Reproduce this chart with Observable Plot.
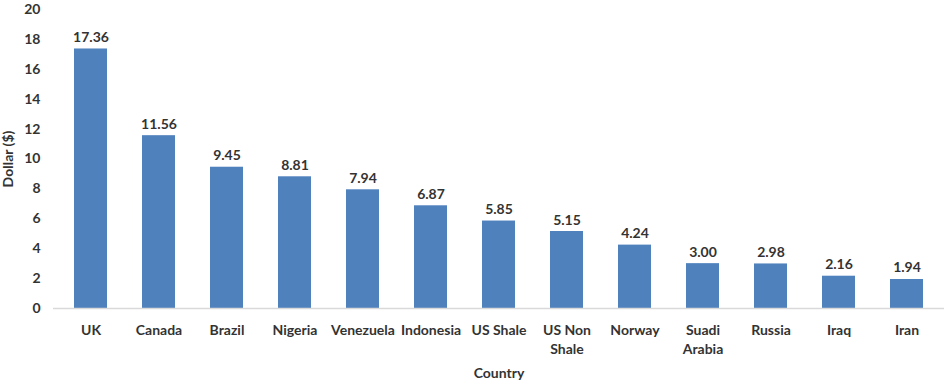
<!DOCTYPE html>
<html>
<head>
<meta charset="utf-8">
<script src="https://cdn.jsdelivr.net/npm/d3@7"></script>
<script src="https://cdn.jsdelivr.net/npm/@observablehq/plot@0.6"></script>
<style>
  body { margin: 0; background: #fff; }
  svg { font-family: Lato, "Open Sans", sans-serif; }
</style>
</head>
<body>
<div id="chart"></div>
<script>
const countries = ["UK", "Canada", "Brazil", "Nigeria", "Venezuela", "Indonesia", "US Shale", "US Non\nShale", "Norway", "Suadi\nArabia", "Russia", "Iraq", "Iran"];
const values = [17.36, 11.56, 9.45, 8.81, 7.94, 6.87, 5.85, 5.15, 4.24, 3.00, 2.98, 2.16, 1.94];
const yTicks = [0, 2, 4, 6, 8, 10, 12, 14, 16, 18, 20];

const data = countries.map((c, i) => ({country: c, value: values[i]}));

const chart = Plot.plot({
  width: 944,
  height: 380,
  marginLeft: 53,
  marginRight: 0,
  marginTop: 9,
  marginBottom: 72,
  style: {fontSize: "14px", fontWeight: "bold", color: "#333", background: "#fff"},
  x: {domain: countries, range: [52, 944], paddingInner: 0.52, paddingOuter: 0.26, label: null},
  y: {domain: [0, 20], label: null},
  marks: [
    Plot.barY(data, {x: "country", y: "value", fill: "#4F81BD"}),
    Plot.ruleY([0], {stroke: "#d9d9d9", strokeWidth: 1.5}),
    Plot.text(data, {x: "country", y: "value", text: d => d.value.toFixed(2), lineAnchor: "bottom", dy: -7, fill: "#333", fontSize: 14, fontWeight: "bold"}),
    Plot.axisY({ticks: yTicks, tickSize: 0, tickPadding: 13, label: "Dollar ($)", labelAnchor: "center", labelArrow: "none", labelOffset: 50, fill: "#333", fontSize: 14}),
    Plot.axisX({tickSize: 0, tickPadding: 13, lineHeight: 1.35, label: "Country", labelAnchor: "center", labelArrow: "none", labelOffset: 69, fill: "#333", fontSize: 14})
  ]
});
document.getElementById("chart").appendChild(chart);
</script>
</body>
</html>
